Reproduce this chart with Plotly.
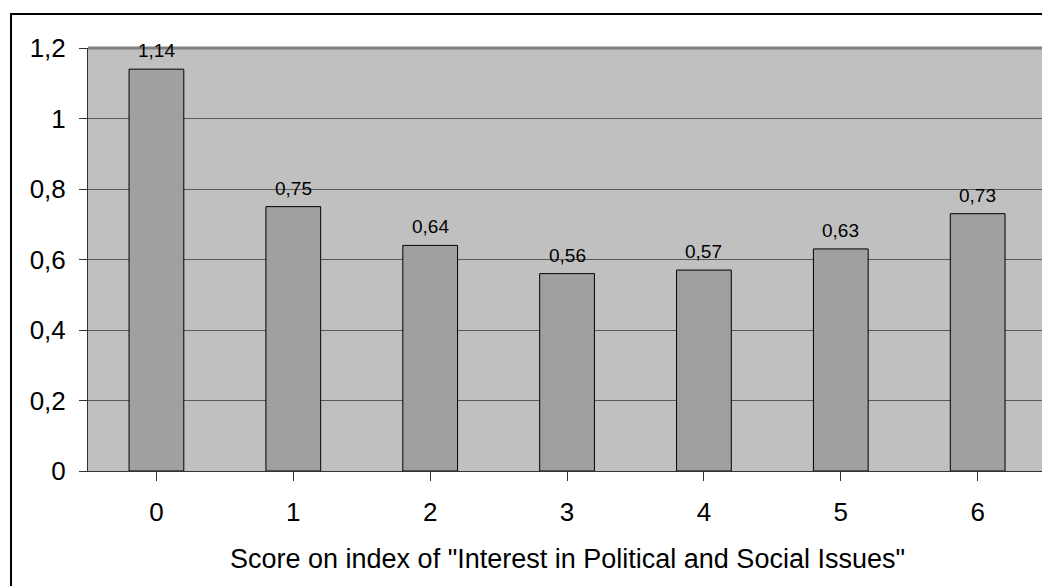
import plotly.graph_objects as go

categories = [0, 1, 2, 3, 4, 5, 6]
values = [1.14, 0.75, 0.64, 0.56, 0.57, 0.63, 0.73]
y_ticks = [0, 0.2, 0.4, 0.6, 0.8, 1.0, 1.2]
x_title = 'Score on index of "Interest in Political and Social Issues"'

FONT = "Liberation Sans, Arial, sans-serif"

fig = go.Figure()
fig.add_trace(go.Bar(
    x=categories,
    y=values,
    width=0.4,
    marker=dict(color="#A0A0A0", line=dict(color="#000000", width=1)),
    cliponaxis=False,
))

label_annotations = [
    dict(x=c, y=v, xref="x", yref="y", text=f"{v:.2f}".replace(".", ","),
         showarrow=False, xanchor="center", yanchor="bottom", yshift=6,
         font=dict(family=FONT, size=19, color="#000000"))
    for c, v in zip(categories, values)
]

fig.update_layout(
    width=1042,
    height=586,
    margin=dict(l=88, r=0, t=48, b=115),
    paper_bgcolor="white",
    plot_bgcolor="#C0C0C0",
    separators=", ",
    showlegend=False,
    font=dict(family=FONT, color="#000000"),
    xaxis=dict(
        range=[-0.5, 6.47],
        tickmode="array",
        tickvals=categories,
        ticktext=[str(c) for c in categories],
        tickson="boundaries",
        ticks="outside",
        ticklen=9,
        tickcolor="#333333",
        showgrid=False,
        showline=True,
        linecolor="#333333",
        linewidth=1,
        tickfont=dict(size=26),
        ticklabelstandoff=9,
        zeroline=False,
    ),
    yaxis=dict(
        range=[0, 1.2],
        tickmode="array",
        tickvals=y_ticks,
        ticks="outside",
        ticklen=8,
        tickcolor="#333333",
        showgrid=True,
        gridcolor="#5A5A5A",
        gridwidth=1,
        showline=True,
        linecolor="#333333",
        linewidth=1,
        tickfont=dict(size=26),
        ticklabelstandoff=8,
        zeroline=False,
    ),
    annotations=label_annotations + [dict(
        x=3, xref="x", y=-0.208, yref="paper",
        text=x_title, showarrow=False,
        xanchor="center", yanchor="middle",
        font=dict(family=FONT, size=27, color="#000000"),
    )],
    shapes=[
        dict(type="line", xref="paper", yref="paper", x0=0, x1=1, y0=1, y1=1,
             line=dict(color="#808080", width=3), layer="above"),
        dict(type="rect", xref="paper", yref="paper", x0=-0.0807, x1=1.05,
             y0=-0.5, y1=1.0804, line=dict(color="#000000", width=2),
             fillcolor="rgba(0,0,0,0)", layer="above"),
    ],
)

fig.write_html("out.html", config={"displayModeBar": False},
               post_script="document.body.style.margin='0';")
